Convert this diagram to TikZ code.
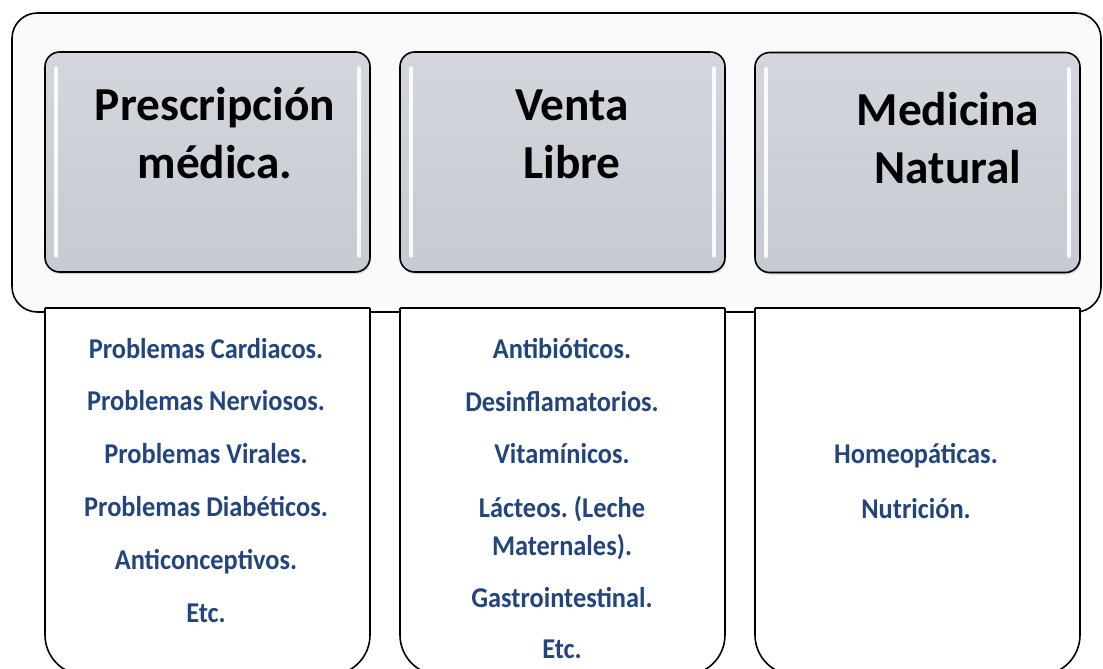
\documentclass[tikz,border=0pt]{standalone}
\usepackage{fontspec}
\setmainfont{Carlito}
\newfontfamily\listfont[FakeStretch=0.92]{Carlito}
\usetikzlibrary{shadows}
\frenchspacing
\definecolor{headgray}{RGB}{198,202,210}
\definecolor{headtop}{RGB}{211,214,221}
\definecolor{listblue}{RGB}{34,70,124}
\definecolor{framebg}{RGB}{250,250,250}
\tikzset{
  headbox/.style={draw=black, line width=1.2pt, rounded corners=11pt,
    top color=headtop, bottom color=headgray, minimum width=243.75pt,
    minimum height=165pt, inner sep=0pt,
    drop shadow={opacity=0.3, shadow xshift=0.8pt, shadow yshift=-1.5pt}},
  headtext/.style={font=\bfseries\fontsize{35.5}{43.5}\selectfont,
    align=center, anchor=base, inner sep=0pt},
  listtext/.style={font=\listfont\bfseries\fontsize{21.5}{28.5}\selectfont,
    text=listblue, align=center, anchor=base, inner sep=0pt},
  gloss/.style={white, line width=3.2pt, line cap=round, opacity=0.9},
  lowbox/.style={draw=black, line width=1.2pt, fill=white}
}
\begin{document}
\begin{tikzpicture}[x=0.75pt,y=-0.75pt]
  \useasboundingbox (0,0) rectangle (1103,668);
  % marco superior
  \draw[line width=1.2pt, fill=framebg, rounded corners=19pt] (12,13) rectangle (1101,312);
  % cajas inferiores
  \foreach \xl in {45,400,755} {
    \path[lowbox] (\xl,308) [rounded corners=30pt] -- (\xl,675) -- (\xl+325,675) -- (\xl+325,308);
    \draw[line width=1.2pt] (\xl,308) -- (\xl+325,308);
  }
  % cabeceras
  \node[headbox] (presc) at (207.5,162) {};
  \node[headbox] (venta) at (562.5,162) {};
  \node[headbox] (natur) at (917.5,162.5) {};
  \foreach \n in {presc,venta,natur} {
    \draw[gloss] ([xshift=9pt,yshift=-13pt]\n.north west) -- ([xshift=9pt,yshift=13pt]\n.south west);
    \draw[gloss] ([xshift=-9pt,yshift=-13pt]\n.north east) -- ([xshift=-9pt,yshift=13pt]\n.south east);
  }
  \node[headtext] (presc-t) at (215,178) {Prescripción\\médica.};
  \node[headtext] (venta-t) at (572,178) {Venta\\Libre};
  \node[headtext] (natur-t) at (948,183) {Medicina\\Natural};
  % listas
  \foreach \txt [count=\i from 0] in {Problemas Cardiacos., Problemas Nerviosos.,
      Problemas Virales., Problemas Diabéticos., Anticonceptivos., Etc.}
    \node[listtext] (presc-\i) at (206,358+52.8*\i) {\txt};
  \foreach \txt/\yy [count=\i from 0] in {Antibióticos./358, Desinflamatorios./411,
      Vitamínicos./463, Lácteos. (Leche\\Maternales)./555, Gastrointestinal./607, Etc./658}
    \node[listtext] (venta-\i) at (562,\yy) {\txt};
  \node[listtext] (natur-0) at (916,463) {Homeopáticas.};
  \node[listtext] (natur-1) at (916,518) {Nutrición.};
\end{tikzpicture}
\end{document}
